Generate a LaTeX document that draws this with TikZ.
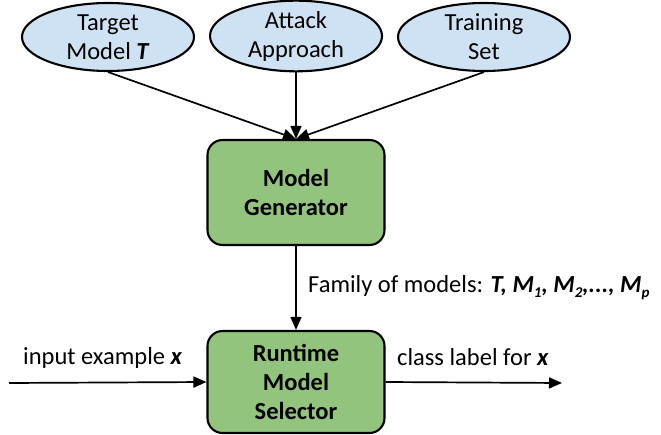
\documentclass[tikz,border=0pt]{standalone}
\usepackage{fontspec}
\setmainfont{Carlito}
\usetikzlibrary{arrows.meta,shapes.geometric}
\definecolor{lblue}{HTML}{CFE2F3}
\definecolor{lgreen}{HTML}{93C47D}
\newcommand{\mysub}[1]{\raisebox{-0.35ex}{\fontsize{15}{15}\selectfont #1}}
\begin{document}
\begin{tikzpicture}[x=1pt,y=-1pt,
  every node/.style={font=\fontsize{24.5}{29}\selectfont, align=center},
  inbox/.style={ellipse, draw=black, line width=2.1pt, fill=lblue, minimum width=172pt, minimum height=68pt, inner sep=0pt},
  procbox/.style={rectangle, rounded corners=15pt, draw=black, line width=2.1pt, fill=lgreen, minimum width=177pt, inner sep=0pt, font=\fontsize{24.5}{29}\selectfont\bfseries},
  conn/.style={line width=1.7pt, -{Triangle[length=13pt,width=11pt]}},
  lbl/.style={inner sep=0pt, anchor=base west}]
\useasboundingbox (0,0) rectangle (661,435);
\node[inbox] (tm) at (108,37) {Target\\Model \textbf{\textit{T}}};
\node[inbox] (aa) at (296,36) {Attack\\Approach};
\node[inbox] (ts) at (484,37) {Training\\Set};
\node[procbox, minimum height=105pt] (gen) at (296,192.5) {Model\\Generator};
\node[procbox, minimum height=102pt] (sel) at (296,382) {Runtime\\Model\\Selector};
\coordinate (inp) at (9,383);
\coordinate (outp) at (562,383);
\draw[conn] (tm.south) -- (gen.north);
\draw[conn] (aa.south) -- (gen.north);
\draw[conn] (ts.south) -- (gen.north);
\draw[conn] (gen.south) -- (sel.north);
\draw[conn] (inp) -- (sel.west);
\draw[conn] (sel.east) -- (outp);
\node[lbl] (fam) at (308,293) {Family of models: \textbf{\textit{T, M\mysub{1}, M\mysub{2},..., M\mysub{p}}}};
\node[lbl] (inl) at (23,365) {input example \textbf{\textit{x}}};
\node[lbl] (outl) at (397,366) {class label for \textbf{\textit{x}}};
\end{tikzpicture}
\end{document}
